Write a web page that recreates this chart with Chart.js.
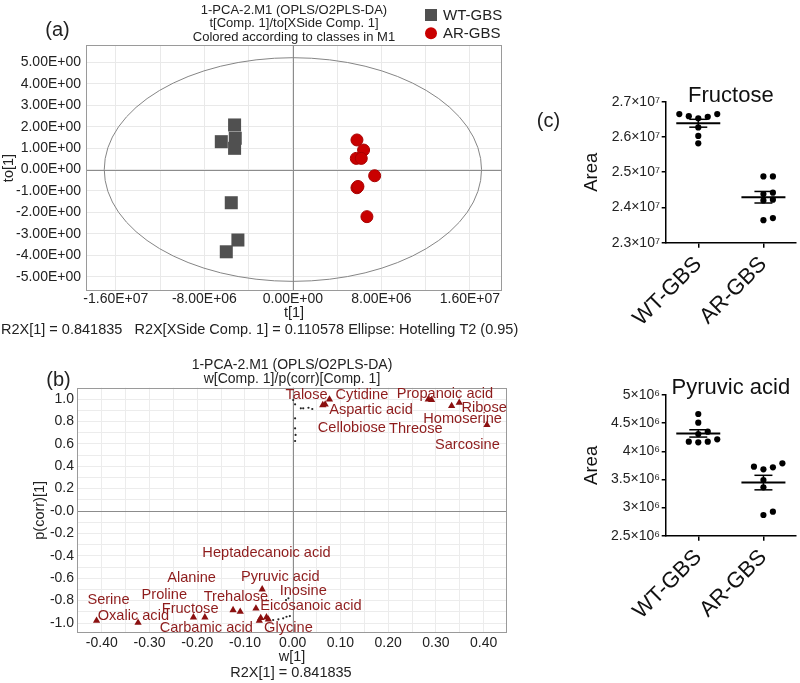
<!DOCTYPE html>
<html><head><meta charset="utf-8">
<script src="https://cdn.jsdelivr.net/npm/chart.js@4.4.0/dist/chart.umd.min.js"></script>
<style>
html,body{margin:0;padding:0;background:#fff;width:800px;height:683px;overflow:hidden;}
#wrap{position:relative;width:800px;height:683px;background:#fff;}
canvas{position:absolute;}
</style></head><body>
<div id="wrap">
<canvas id="cA" width="520" height="340" style="left:0;top:0;width:520px;height:340px"></canvas>
<canvas id="cB" width="520" height="343" style="left:0;top:340px;width:520px;height:343px"></canvas>
<canvas id="cC1" width="275" height="300" style="left:525px;top:50px;width:275px;height:300px"></canvas>
<canvas id="cC2" width="275" height="333" style="left:525px;top:350px;width:275px;height:333px"></canvas>
</div>
<script>
// ================= DATA =================
// Panel (a): OPLS-DA scores
const aSeries = ['WT-GBS', 'AR-GBS'];
const aWT_t  = [-5.27e6, -6.47e6, -5.21e6, -5.27e6, -5.57e6, -4.97e6, -6.02e6];
const aWT_to = [2.08, 1.30, 1.46, 0.99, -1.55, -3.29, -3.84];
const aAR_t  = [5.79e6, 6.39e6, 5.73e6, 6.18e6, 7.39e6, 5.79e6, 5.88e6, 6.69e6];
const aAR_to = [1.38, 0.91, 0.52, 0.52, -0.29, -0.85, -0.79, -2.20];
const aEllipseT = 1.705e7;   // Hotelling T2 (0.95) half-axis on t[1]
const aEllipseTo = 5.22;     // Hotelling T2 (0.95) half-axis on to[1]
const aXTickLabels = [-1.6e7, -8e6, 0, 8e6, 1.6e7];
const aXGrid = [-1.6e7, -1.2e7, -8e6, -4e6, 0, 4e6, 8e6, 1.2e7, 1.6e7];
const aYTicks = [-5, -4, -3, -2, -1, 0, 1, 2, 3, 4, 5];

// Panel (b): loadings S-plot (triangles = annotated metabolites, dots = others)
const bTriW = [0.077, 0.063, 0.068, 0.284, 0.291, 0.333, 0.349, 0.407,
               -0.411, -0.324, -0.208, -0.184, -0.125, -0.110, -0.077, -0.064, -0.070, -0.067, -0.055, -0.051];
const bTriP = [0.997, 0.946, 0.951, 0.997, 0.991, 0.938, 0.967, 0.768,
               -0.979, -0.997, -0.949, -0.949, -0.884, -0.899, -0.869, -0.699, -0.979, -0.955, -0.949, -0.967];
const bDotW = [0.001, 0.005, 0.017, 0.022, 0.033, 0.041, 0.005, 0.005, 0.006, 0.005,
               -0.041, -0.030, -0.020, -0.013, -0.006, -0.009, -0.014];
const bDotP = [0.991, 0.953, 0.917, 0.917, 0.922, 0.911, 0.828, 0.738, 0.679, 0.625,
               -0.973, -0.967, -0.958, -0.944, -0.938, -0.779, -0.795];
const bLabelText = ['Talose', 'Cytidine', 'Propanoic acid', 'Aspartic acid', 'Ribose', 'Homoserine',
  'Cellobiose', 'Threose', 'Sarcosine', 'Heptadecanoic acid', 'Alanine', 'Pyruvic acid', 'Inosine',
  'Serine', 'Proline', 'Trehalose', 'Eicosanoic acid', 'Fructose', 'Oxalic acid', 'Carbamic acid', 'Glycine'];
const bLabelW = [0.029, 0.145, 0.319, 0.164, 0.401, 0.356, 0.124, 0.258, 0.366, -0.055, -0.212, -0.026, 0.022,
  -0.386, -0.269, -0.119, 0.038, -0.215, -0.334, -0.181, -0.009];
const bLabelP = [1.036, 1.036, 1.045, 0.899, 0.920, 0.821, 0.738, 0.732, 0.589, -0.378, -0.601, -0.592, -0.712,
  -0.795, -0.753, -0.771, -0.848, -0.875, -0.938, -1.042, -1.042];
const bXTicks = [-0.4, -0.3, -0.2, -0.1, 0, 0.1, 0.2, 0.3, 0.4];
const bXTickLabels = ['-0.40', '-0.30', '-0.20', '-0.10', '0.00', '0.10', '0.20', '0.30', '0.40'];
const bYTicks = [-1.0, -0.8, -0.6, -0.4, -0.2, 0, 0.2, 0.4, 0.6, 0.8, 1.0];
const bYTickLabels = ['-1.0', '-0.8', '-0.6', '-0.4', '-0.2', '-0.0', '0.2', '0.4', '0.6', '0.8', '1.0'];

// Panel (c): peak areas
const cCategories = ['WT-GBS', 'AR-GBS'];
const cFructoseWT = [2.665e7, 2.659e7, 2.653e7, 2.657e7, 2.665e7, 2.627e7, 2.603e7, 2.582e7];
const cFructoseAR = [2.488e7, 2.488e7, 2.442e7, 2.438e7, 2.422e7, 2.420e7, 2.364e7, 2.370e7];
const cPyruvicWT  = [4.662e6, 4.508e6, 4.307e6, 4.348e6, 4.160e6, 4.213e6, 4.170e6, 4.170e6];
const cPyruvicAR  = [3.726e6, 3.786e6, 3.680e6, 3.715e6, 3.490e6, 3.360e6, 2.868e6, 2.927e6];
const cFructoseTicks = [2.3e7, 2.4e7, 2.5e7, 2.6e7, 2.7e7];
const cPyruvicTicks  = [2.5e6, 3.0e6, 3.5e6, 4.0e6, 4.5e6, 5.0e6];

// ================= STYLE / HELPERS =================
const FONT = "'Liberation Sans', Arial, Helvetica, sans-serif";
Chart.defaults.font.family = FONT;
Chart.defaults.color = '#222';
Chart.defaults.animation = false;

function sci(v) {
  if (Math.abs(v) < 1e-12) return '0.00E+00';
  const e = Math.floor(Math.log10(Math.abs(v)) + 1e-9);
  const m = v / Math.pow(10, e);
  return m.toFixed(2) + 'E' + (e < 0 ? '-' : '+') + String(Math.abs(e)).padStart(2, '0');
}
const SUP = {6: '\u2076', 7: '\u2077'};
function powFmt(v, e) {
  const m = parseFloat((v / Math.pow(10, e)).toFixed(2));
  return String(m) + '\u00d710' + SUP[e];
}
function near(a, b) { return Math.abs(a - b) < 1e-9 * Math.max(1, Math.abs(b)); }
function zip(xs, ys) { return xs.map((x, i) => ({x: x, y: ys[i]})); }
function hline(ctx, x1, x2, y) { ctx.beginPath(); ctx.moveTo(x1, y); ctx.lineTo(x2, y); ctx.stroke(); }
function vline(ctx, x, y1, y2) { ctx.beginPath(); ctx.moveTo(x, y1); ctx.lineTo(x, y2); ctx.stroke(); }
function text(ctx, s, x, y, font, align, color, rot) {
  ctx.save(); ctx.font = font; ctx.fillStyle = color || '#222'; ctx.textAlign = align || 'center';
  ctx.textBaseline = 'middle';
  if (rot) { ctx.translate(x, y); ctx.rotate(rot); ctx.fillText(s, 0, 0); }
  else ctx.fillText(s, x, y);
  ctx.restore();
}

// ================= PANEL (a) =================
const panelAPlugin = {
  id: 'panelA',
  beforeDatasetsDraw(chart) {
    const {ctx, chartArea: ca, scales: {x, y}} = chart;
    ctx.save();
    ctx.beginPath(); ctx.rect(ca.left, ca.top, ca.width, ca.height); ctx.clip();
    ctx.strokeStyle = '#8c8c8c'; ctx.lineWidth = 1;
    const x0 = Math.round(x.getPixelForValue(0)) + 0.5, y0 = Math.round(y.getPixelForValue(0)) + 0.5;
    hline(ctx, ca.left, ca.right, y0); vline(ctx, x0, ca.top, ca.bottom);
    ctx.beginPath();
    ctx.ellipse(x.getPixelForValue(0), y.getPixelForValue(0),
      Math.abs(x.getPixelForValue(aEllipseT) - x.getPixelForValue(0)),
      Math.abs(y.getPixelForValue(aEllipseTo) - y.getPixelForValue(0)), 0, 0, 2 * Math.PI);
    ctx.strokeStyle = '#858585'; ctx.lineWidth = 1; ctx.stroke();
    ctx.restore();
    ctx.save(); ctx.strokeStyle = '#9a9a9a'; ctx.lineWidth = 1;
    ctx.strokeRect(Math.round(ca.left) + 0.5, Math.round(ca.top) + 0.5, Math.round(ca.width) - 1, Math.round(ca.height) - 1);
    ctx.restore();
  },
  afterDraw(chart) {
    const ctx = chart.ctx;
    text(ctx, '(a)', 57.5, 30, '20px ' + FONT, 'center', '#222');
    text(ctx, 'R2X[1] = 0.841835   R2X[XSide Comp. 1] = 0.110578 Ellipse: Hotelling T2 (0.95)', 1, 330,
      '14.5px ' + FONT, 'left', '#222');
    // legend
    ctx.save();
    ctx.fillStyle = '#505050'; ctx.fillRect(425, 9, 12, 12);
    ctx.beginPath(); ctx.arc(431, 33.3, 6, 0, 2 * Math.PI); ctx.fillStyle = '#c90000'; ctx.fill();
    ctx.restore();
    text(ctx, aSeries[0], 443, 15.5, '15px ' + FONT, 'left', '#222');
    text(ctx, aSeries[1], 443, 33.5, '15px ' + FONT, 'left', '#222');
  }
};

new Chart(document.getElementById('cA'), {
  type: 'scatter',
  data: {
    datasets: [
      {label: aSeries[0], data: zip(aWT_t, aWT_to), pointStyle: 'rect', pointRadius: 9.2,
       backgroundColor: '#505050', borderWidth: 0},
      {label: aSeries[1], data: zip(aAR_t, aAR_to), pointStyle: 'circle', pointRadius: 6,
       backgroundColor: '#c90000', borderColor: '#a80000', borderWidth: 1}
    ]
  },
  plugins: [panelAPlugin],
  options: {
    responsive: false, maintainAspectRatio: false, animation: false,
    layout: {padding: {left: 0, right: 18, top: 0, bottom: 0}},
    plugins: {
      legend: {display: false}, tooltip: {enabled: false},
      title: {display: true, fullSize: false, color: '#222',
        text: ['1-PCA-2.M1 (OPLS/O2PLS-DA)', 't[Comp. 1]/to[XSide Comp. 1]', 'Colored according to classes in M1'],
        font: {size: 13, weight: 'normal', lineHeight: 1.04}, padding: {top: 3.25, bottom: 1.25}}
    },
    scales: {
      x: {type: 'linear', min: -1.87e7, max: 1.89e7,
        afterBuildTicks: s => { s.ticks = aXGrid.map(v => ({value: v})); },
        afterFit: s => { s.height = 49; },
        ticks: {font: {size: 14}, padding: 0, color: '#222', maxRotation: 0, autoSkip: false,
          callback: v => aXTickLabels.some(t => near(v, t)) ? sci(v) : ''},
        grid: {color: '#e9e9e9', drawTicks: false}, border: {display: false},
        title: {display: true, text: 't[1]', font: {size: 14.5}, color: '#222', padding: {top: 0, bottom: 18}}},
      y: {type: 'linear', min: -5.67, max: 5.81,
        afterBuildTicks: s => { s.ticks = aYTicks.map(v => ({value: v})); },
        afterFit: s => { s.width = 86; },
        ticks: {font: {size: 14}, padding: 5, color: '#222', callback: v => sci(v)},
        grid: {color: '#e9e9e9', drawTicks: false}, border: {display: false},
        title: {display: true, text: 'to[1]', font: {size: 14.5}, color: '#222', padding: {top: 0, bottom: 0}}}
    }
  }
});

// ================= PANEL (b) =================
const panelBPlugin = {
  id: 'panelB',
  beforeDatasetsDraw(chart) {
    const {ctx, chartArea: ca, scales: {x, y}} = chart;
    ctx.save();
    ctx.strokeStyle = '#8c8c8c'; ctx.lineWidth = 1;
    const x0 = Math.round(x.getPixelForValue(0)) + 0.5, y0 = Math.round(y.getPixelForValue(0)) + 0.5;
    hline(ctx, ca.left, ca.right, y0); vline(ctx, x0, ca.top, ca.bottom);
    ctx.strokeStyle = '#9a9a9a';
    ctx.strokeRect(Math.round(ca.left) + 0.5, Math.round(ca.top) + 0.5, Math.round(ca.width) - 1, Math.round(ca.height) - 1);
    ctx.restore();
  },
  afterDatasetsDraw(chart) {
    const {ctx, scales: {x, y}} = chart;
    bLabelText.forEach((s, i) => {
      text(ctx, s, x.getPixelForValue(bLabelW[i]), y.getPixelForValue(bLabelP[i]), '14.6px ' + FONT, 'center', '#8e1c1c');
    });
  },
  afterDraw(chart) {
    const ctx = chart.ctx;
    text(ctx, '(b)', 58.5, 40, '20px ' + FONT, 'center', '#222');
    text(ctx, 'R2X[1] = 0.841835', 291, 333.3, '14.5px ' + FONT, 'center', '#222');
  }
};

new Chart(document.getElementById('cB'), {
  type: 'scatter',
  data: {
    datasets: [
      {label: 'metabolites', data: zip(bTriW, bTriP), pointStyle: 'triangle', pointRadius: 4.2,
       backgroundColor: '#8b1010', borderWidth: 0},
      {label: 'others', data: zip(bDotW, bDotP), pointStyle: 'circle', pointRadius: 1.1,
       backgroundColor: '#222', borderWidth: 0}
    ]
  },
  plugins: [panelBPlugin],
  options: {
    responsive: false, maintainAspectRatio: false, animation: false,
    layout: {padding: {left: 0, right: 13, top: 0, bottom: 0}},
    plugins: {
      legend: {display: false}, tooltip: {enabled: false},
      title: {display: true, fullSize: false, color: '#222',
        text: ['1-PCA-2.M1 (OPLS/O2PLS-DA)', 'w[Comp. 1]/p(corr)[Comp. 1]'],
        font: {size: 14, weight: 'normal', lineHeight: 1.02}, padding: {top: 17.86, bottom: 1.28}}
    },
    scales: {
      x: {type: 'linear', min: -0.452, max: 0.449,
        afterBuildTicks: s => {
          const t = [];
          bXTicks.forEach((v, i) => { t.push({value: v}); if (i < bXTicks.length - 1) t.push({value: (v + bXTicks[i + 1]) / 2}); });
          s.ticks = t;
        },
        afterFit: s => { s.height = 50; },
        ticks: {font: {size: 14}, padding: 1.9, color: '#222', maxRotation: 0, autoSkip: false,
          callback: v => { const i = bXTicks.findIndex(t => near(v, t)); return i >= 0 ? bXTickLabels[i] : ''; }},
        grid: {color: '#ececec', drawTicks: false}, border: {display: false},
        title: {display: true, text: 'w[1]', font: {size: 14.5}, color: '#222', padding: {top: 0, bottom: 17.6}}},
      y: {type: 'linear', min: -1.089, max: 1.101,
        afterBuildTicks: s => {
          const t = [];
          bYTicks.forEach((v, i) => { t.push({value: v}); if (i < bYTicks.length - 1) t.push({value: (v + bYTicks[i + 1]) / 2}); });
          s.ticks = t;
        },
        afterFit: s => { s.width = 77; },
        ticks: {font: {size: 14}, padding: 3, color: '#222', autoSkip: false,
          callback: v => { const i = bYTicks.findIndex(t => near(v, t)); return i >= 0 ? bYTickLabels[i] : ''; }},
        grid: {color: '#ececec', drawTicks: false}, border: {display: false},
        title: {display: true, text: 'p(corr)[1]', font: {size: 14.5}, color: '#222', padding: {top: 31.3, bottom: 0}}}
    }
  }
});

// ================= PANEL (c) =================
// horizontal spreading of dots (beeswarm) so overlapping values sit side by side
function beeswarm(values, valuePerPx, stepPx, diamPx, xUnitsPerPx) {
  const order = values.map((v, i) => i).sort((a, b) => values[a] - values[b]);
  const placed = []; const slots = new Array(values.length);
  order.forEach(i => {
    const ypx = values[i] / valuePerPx;
    for (let k = 0; k < 50; k++) {
      const slot = k === 0 ? 0 : (k % 2 ? (k + 1) / 2 : -k / 2);
      const ok = placed.every(p => Math.hypot((p.slot - slot) * stepPx, p.ypx - ypx) >= diamPx);
      if (ok) { placed.push({slot, ypx}); slots[i] = slot; break; }
    }
  });
  return slots.map(s => s * stepPx * xUnitsPerPx);
}

const meanSemPlugin = {
  id: 'meanSem',
  afterDatasetsDraw(chart) {
    const {ctx, scales: {x, y}} = chart;
    ctx.save(); ctx.strokeStyle = '#000';
    chart.data.datasets.forEach((ds, gi) => {
      const vals = ds.data.map(p => p.y);
      const n = vals.length, m = vals.reduce((a, b) => a + b, 0) / n;
      const sd = Math.sqrt(vals.reduce((a, v) => a + (v - m) * (v - m), 0) / (n - 1));
      const sem = sd / Math.sqrt(n);
      const cx = x.getPixelForValue(gi);
      ctx.lineWidth = 2;
      hline(ctx, cx - 22, cx + 22, y.getPixelForValue(m));
      ctx.lineWidth = 1.5;
      vline(ctx, cx, y.getPixelForValue(m + sem), y.getPixelForValue(m - sem));
      hline(ctx, cx - 9, cx + 9, y.getPixelForValue(m + sem));
      hline(ctx, cx - 9, cx + 9, y.getPixelForValue(m - sem));
    });
    ctx.restore();
  }
};

function dotChart(id, title, groups, ticks, exp, plotH, xHeight, titlePad, extraPlugin) {
  const yMin = ticks[0], yMax = ticks[ticks.length - 1];
  const valuePerPx = (yMax - yMin) / plotH;
  const xUnitsPerPx = 2 / 133.3;
  const datasets = groups.map((vals, gi) => {
    const offs = beeswarm(vals, valuePerPx, 9.7, 6.3, xUnitsPerPx);
    return {label: cCategories[gi], data: vals.map((v, i) => ({x: gi + offs[i], y: v})),
      pointStyle: 'circle', pointRadius: 3.1, backgroundColor: '#000', borderWidth: 0};
  });
  return new Chart(document.getElementById(id), {
    type: 'scatter',
    data: {datasets},
    plugins: [meanSemPlugin].concat(extraPlugin ? [extraPlugin] : []),
    options: {
      responsive: false, maintainAspectRatio: false, animation: false,
      layout: {padding: {left: 0, right: 1, top: 0, bottom: 0}},
      plugins: {
        legend: {display: false}, tooltip: {enabled: false},
        title: {display: true, fullSize: false, text: title, color: '#111',
          font: {size: 22, weight: 'normal', lineHeight: 0.5}, padding: titlePad}
      },
      scales: {
        x: {type: 'linear', min: -0.5, max: 1.5,
          afterBuildTicks: s => { s.ticks = cCategories.map((c, i) => ({value: i})); },
          afterFit: s => { s.height = xHeight; },
          ticks: {font: {size: 22, lineHeight: 0.8}, color: '#111', minRotation: 45, maxRotation: 45, autoSkip: false, padding: 7,
            callback: v => cCategories[v] !== undefined ? cCategories[v] : ''},
          grid: {display: true, drawOnChartArea: false, drawTicks: true, tickLength: 5, color: '#000', lineWidth: 1.5},
          border: {display: true, color: '#000', width: 1.5}},
        y: {type: 'linear', min: yMin, max: yMax,
          afterBuildTicks: s => { s.ticks = ticks.map(v => ({value: v})); },
          afterFit: s => { s.width = 140.7; },
          ticks: {font: {size: 14}, color: '#222', padding: 1.7, autoSkip: false, callback: v => powFmt(v, exp)},
          grid: {display: true, drawOnChartArea: false, drawTicks: true, tickLength: 4, color: '#000', lineWidth: 1.5},
          border: {display: true, color: '#000', width: 1.5},
          title: {display: true, text: 'Area', font: {size: 18.5}, color: '#111', padding: {top: 55.6, bottom: 0}}}
      }
    }
  });
}

const panelCLetter = {
  id: 'panelCLetter',
  afterDraw(chart) { text(chart.ctx, '(c)', 23.5, 71.7, '20px ' + FONT, 'center', '#222'); }
};

dotChart('cC1', 'Fructose', [cFructoseWT, cFructoseAR], cFructoseTicks, 7, 141, 107.3, {top: 40.5, bottom: 0.2}, panelCLetter);
dotChart('cC2', 'Pyruvic acid', [cPyruvicWT, cPyruvicAR], cPyruvicTicks, 6, 140.7, 147.3, {top: 32.8, bottom: 1.2}, null);
</script>
</body></html>
